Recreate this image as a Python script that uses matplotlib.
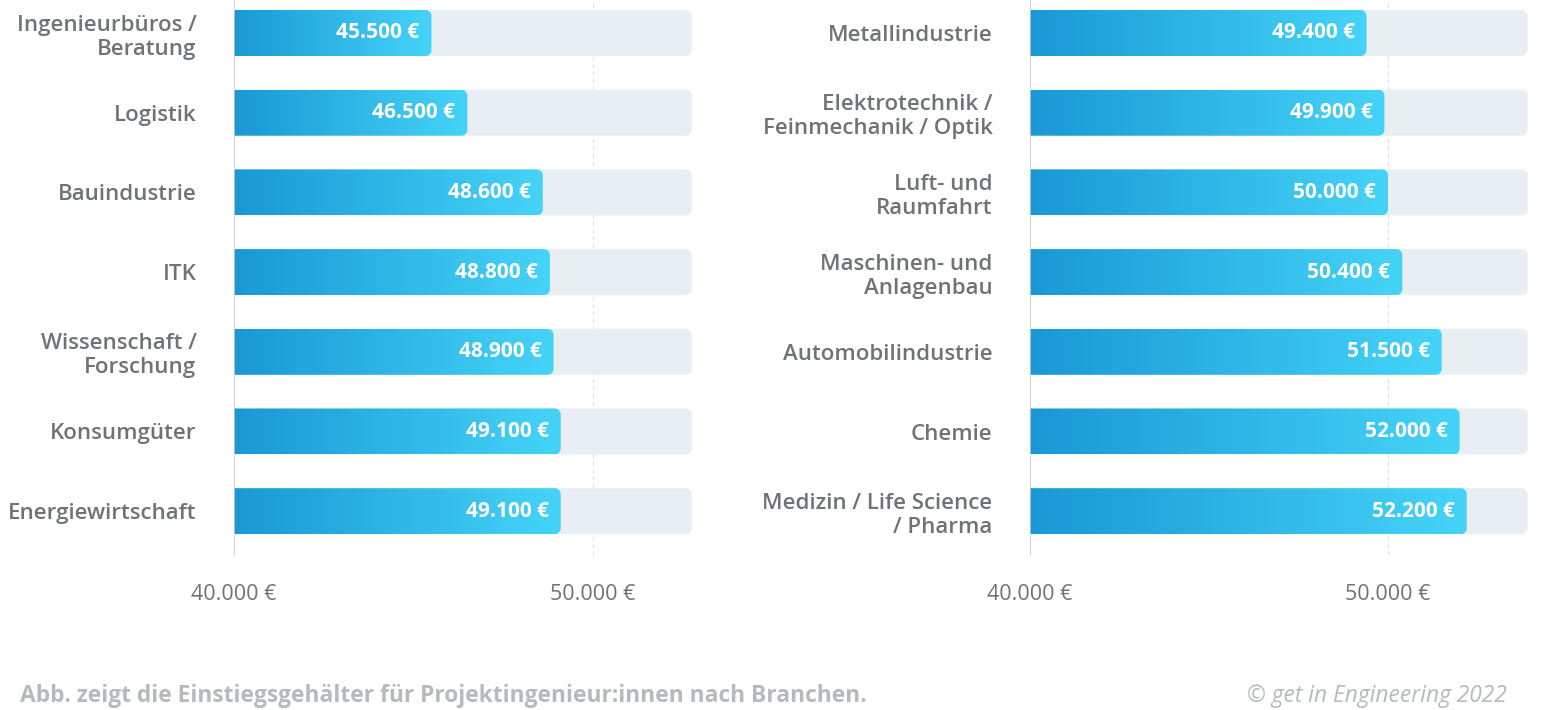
import numpy as np
import matplotlib
matplotlib.use('Agg')
import matplotlib.pyplot as plt
from matplotlib.path import Path
from matplotlib.patches import PathPatch
from matplotlib.colors import LinearSegmentedColormap

plt.rcParams['font.family'] = ['Open Sans', 'DejaVu Sans']

# data
left_labels = ['Ingenieurbüros /\nBeratung', 'Logistik', 'Bauindustrie', 'ITK',
               'Wissenschaft /\nForschung', 'Konsumgüter', 'Energiewirtschaft']
left_values = [45500, 46500, 48600, 48800, 48900, 49100, 49100]
right_labels = ['Metallindustrie', 'Elektrotechnik /\nFeinmechanik / Optik',
                'Luft- und\nRaumfahrt', 'Maschinen- und\nAnlagenbau',
                'Automobilindustrie', 'Chemie', 'Medizin / Life Science\n/ Pharma']
right_values = [49400, 49900, 50000, 50400, 51500, 52000, 52200]
tick_values = [40000, 50000]
bg_max = [52750, 53900]  # length of the grey track per panel

note = 'Abb. zeigt die Einstiegsgehälter für Projektingenieur:innen nach Branchen.'
credit = '© get in Engineering 2022'

W, H = 1547, 710
LABEL_GREY = '#6e7378'
TRACK = '#e8eef2'
cmap = LinearSegmentedColormap.from_list('bar', ['#1a98d4', '#45d4f8'])


def fmt(v):
    return f'{v:,.0f}'.replace(',', '.') + ' €'


def right_rounded(x0, x1, y0, y1, rx, ry):
    k = 0.5523
    verts = [(x0, y0), (x1 - rx, y0),
             (x1 - rx + k * rx, y0), (x1, y0 + ry - k * ry), (x1, y0 + ry),
             (x1, y1 - ry),
             (x1, y1 - ry + k * ry), (x1 - rx + k * rx, y1), (x1 - rx, y1),
             (x0, y1), (x0, y0)]
    codes = [Path.MOVETO, Path.LINETO,
             Path.CURVE4, Path.CURVE4, Path.CURVE4,
             Path.LINETO,
             Path.CURVE4, Path.CURVE4, Path.CURVE4,
             Path.LINETO, Path.CLOSEPOLY]
    return Path(verts, codes)


def rounded(x0, x1, y0, y1, rx, ry):
    # all four corners rounded (for the track)
    k = 0.5523
    verts = [(x0 + rx, y0), (x1 - rx, y0),
             (x1 - rx + k * rx, y0), (x1, y0 + ry - k * ry), (x1, y0 + ry),
             (x1, y1 - ry),
             (x1, y1 - ry + k * ry), (x1 - rx + k * rx, y1), (x1 - rx, y1),
             (x0 + rx, y1),
             (x0 + rx - k * rx, y1), (x0, y1 - ry + k * ry), (x0, y1 - ry),
             (x0, y0 + ry),
             (x0, y0 + ry - k * ry), (x0 + rx - k * rx, y0), (x0 + rx, y0),
             (x0 + rx, y0)]
    codes = [Path.MOVETO, Path.LINETO,
             Path.CURVE4, Path.CURVE4, Path.CURVE4, Path.LINETO,
             Path.CURVE4, Path.CURVE4, Path.CURVE4, Path.LINETO,
             Path.CURVE4, Path.CURVE4, Path.CURVE4, Path.LINETO,
             Path.CURVE4, Path.CURVE4, Path.CURVE4, Path.CLOSEPOLY]
    return Path(verts, codes)


fig = plt.figure(figsize=(W / 100, H / 100), dpi=100)

# panel geometry in pixels: axis x, px per 10k, right edge
panels = [(234, 359, 720, left_labels, left_values, bg_max[0]),
          (1030, 358, 1547, right_labels, right_values, bg_max[1])]

row0, row_step, bar_h_px, ax_bottom_px = 33, 79.7, 46, 555
n = len(left_values)
y_top = -row0 / row_step
y_bot = (ax_bottom_px - row0) / row_step

for x_px, scale, x_right, labels, values, track_end in panels:
    ax = fig.add_axes([x_px / W, 1 - ax_bottom_px / H, (x_right - x_px) / W, ax_bottom_px / H])
    xpp = 10000 / scale
    for s in ax.spines.values():
        s.set_visible(False)
    ax.set_facecolor('none')

    ax.axvline(50000, color='#dbe2e7', lw=0.9, ls=(0, (3, 3)), zorder=0)
    ax.axvline(40000, color='#c4c8cc', lw=1.2, zorder=5)

    h = bar_h_px / row_step
    rx, ry = 6 * xpp, 6 / row_step
    grad = np.linspace(0, 1, 256).reshape(1, -1)
    for i, v in enumerate(values):
        y0, y1 = i - h / 2, i + h / 2
        ax.add_patch(PathPatch(rounded(40000 - 10 * xpp, track_end, y0, y1, rx, ry),
                               facecolor=TRACK, edgecolor='none', zorder=1))
        patch = PathPatch(right_rounded(40000, v, y0, y1, rx, ry),
                          facecolor='none', edgecolor='none', zorder=2)
        ax.add_patch(patch)
        im = ax.imshow(grad, cmap=cmap, aspect='auto', extent=[40000, v, y1, y0],
                       zorder=2, interpolation='bicubic')
        im.set_clip_path(patch)
        ax.text(v - 12 * xpp, i, fmt(v), ha='right', va='center', color='white',
                fontsize=15, fontweight='bold', zorder=3)

    ax.set_xlim(40000, 40000 + (x_right - x_px) * xpp)
    ax.set_ylim(y_bot, y_top)
    ax.set_yticks(range(n))
    ax.set_yticklabels(labels, fontsize=16, color=LABEL_GREY, fontweight='semibold',
                       linespacing=1.2)
    ax.set_xticks(tick_values)
    ax.set_xticklabels([fmt(t) for t in tick_values], fontsize=15.5, color=LABEL_GREY)
    ax.tick_params(axis='y', length=0, pad=27)
    ax.tick_params(axis='x', length=0, pad=21)

fig.text(20 / W, 1 - 696 / H, note, ha='left', va='center', fontsize=16.4,
         fontweight='bold', color='#b6babe')
fig.text(1507 / W, 1 - 696 / H, credit, ha='right', va='center', fontsize=16.4,
         style='italic', color='#b6babe')

fig.savefig('out.png', dpi=100, facecolor='white')
